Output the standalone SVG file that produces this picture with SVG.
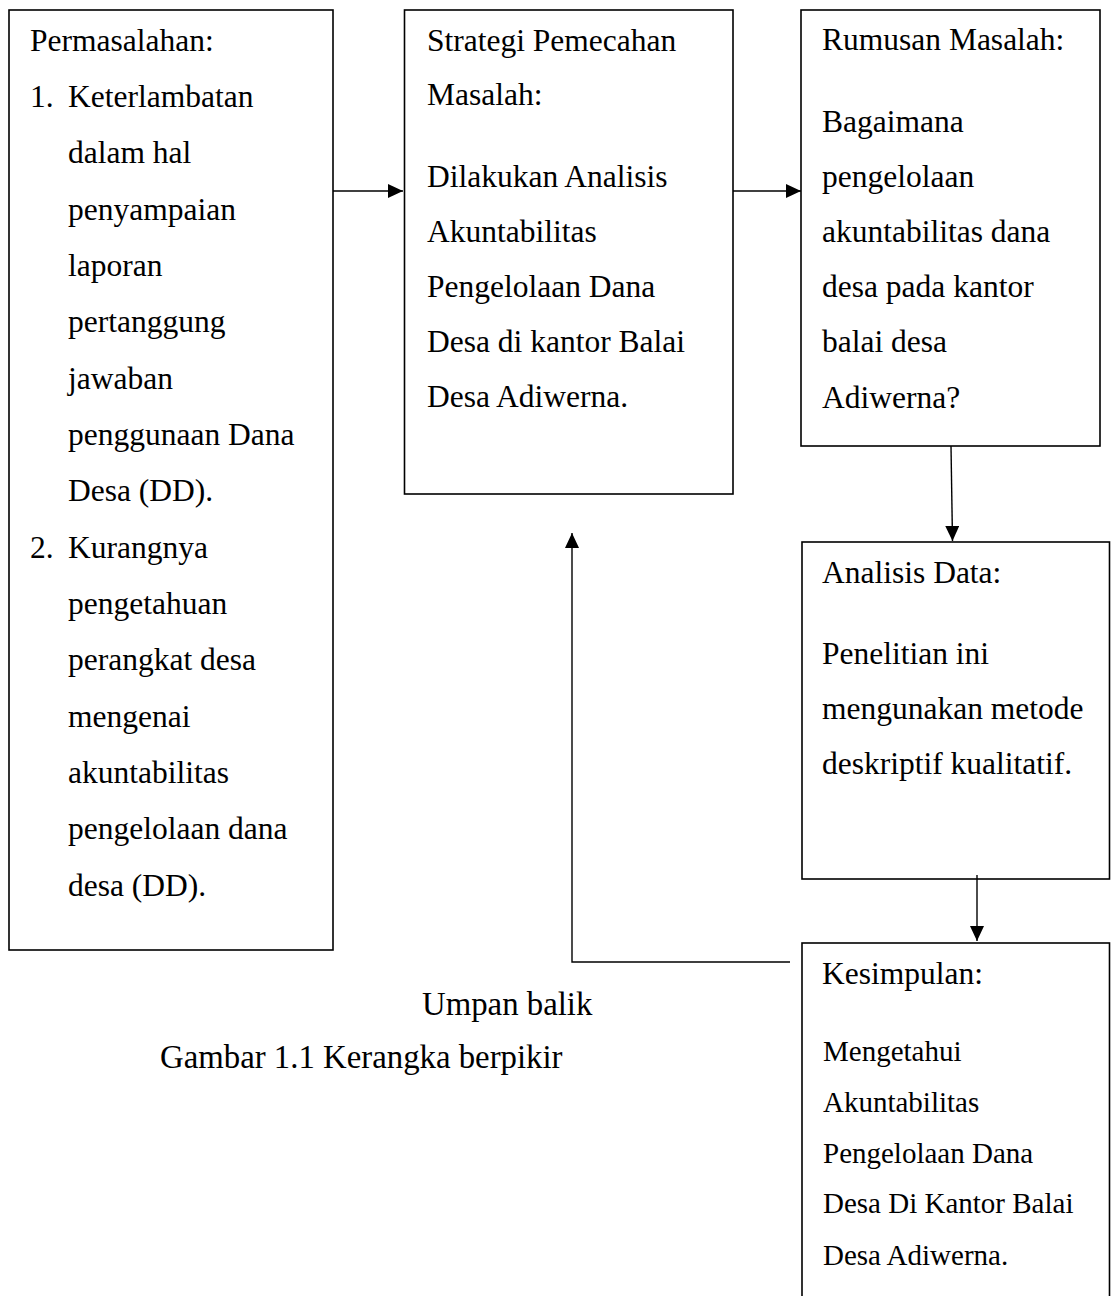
<svg xmlns="http://www.w3.org/2000/svg" width="1111" height="1296" viewBox="0 0 1111 1296">
<style>
.box{fill:#fff;stroke:#000;stroke-width:1.6}
.t{font-family:"Liberation Serif","Times New Roman",serif;font-size:31.5px;fill:#000}
.s{font-size:29px}
.cap{font-size:32.8px}
.c{fill:none;stroke:#000;stroke-width:1.4}
</style>
<defs>
<marker id="ah" markerUnits="userSpaceOnUse" markerWidth="16" markerHeight="14" refX="15" refY="7" orient="auto">
<path d="M0,0 L15,7 L0,14 z" fill="#000"/>
</marker>
</defs>
<rect width="1111" height="1296" fill="#fff"/>
<g id="permasalahan">
<rect class="box" x="9" y="10" width="324" height="940"/>
<text class="t" x="30" y="51">Permasalahan:</text>
<text class="t" x="30" y="107">1.</text>
<text class="t" x="68" y="107">Keterlambatan</text>
<text class="t" x="68" y="163">dalam hal</text>
<text class="t" x="68" y="220">penyampaian</text>
<text class="t" x="68" y="276">laporan</text>
<text class="t" x="68" y="332">pertanggung</text>
<text class="t" x="68" y="389">jawaban</text>
<text class="t" x="68" y="445">penggunaan Dana</text>
<text class="t" x="68" y="501">Desa (DD).</text>
<text class="t" x="30" y="558">2.</text>
<text class="t" x="68" y="558">Kurangnya</text>
<text class="t" x="68" y="614">pengetahuan</text>
<text class="t" x="68" y="670">perangkat desa</text>
<text class="t" x="68" y="727">mengenai</text>
<text class="t" x="68" y="783">akuntabilitas</text>
<text class="t" x="68" y="839">pengelolaan dana</text>
<text class="t" x="68" y="896">desa (DD).</text>
</g>
<g id="strategi">
<rect class="box" x="404.5" y="10" width="328.5" height="484"/>
<text class="t" x="427" y="51">Strategi Pemecahan</text>
<text class="t" x="427" y="105">Masalah:</text>
<text class="t" x="427" y="187">Dilakukan Analisis</text>
<text class="t" x="427" y="242">Akuntabilitas</text>
<text class="t" x="427" y="297">Pengelolaan Dana</text>
<text class="t" x="427" y="352">Desa di kantor Balai</text>
<text class="t" x="427" y="407">Desa Adiwerna.</text>
</g>
<g id="rumusan">
<rect class="box" x="801" y="10" width="299" height="436"/>
<text class="t" x="822" y="50">Rumusan Masalah:</text>
<text class="t" x="822" y="132">Bagaimana</text>
<text class="t" x="822" y="187">pengelolaan</text>
<text class="t" x="822" y="242">akuntabilitas dana</text>
<text class="t" x="822" y="297">desa pada kantor</text>
<text class="t" x="822" y="352">balai desa</text>
<text class="t" x="822" y="408">Adiwerna?</text>
</g>
<g id="analisis">
<rect class="box" x="802" y="542" width="307.5" height="337"/>
<text class="t" x="822" y="583">Analisis Data:</text>
<text class="t" x="822" y="664">Penelitian ini</text>
<text class="t" x="822" y="719">mengunakan metode</text>
<text class="t" x="822" y="774">deskriptif kualitatif.</text>
</g>
<g id="kesimpulan">
<rect class="box" x="802" y="943" width="307.5" height="400"/>
<text class="t" x="822" y="984">Kesimpulan:</text>
<text class="t s" x="823" y="1061">Mengetahui</text>
<text class="t s" x="823" y="1112">Akuntabilitas</text>
<text class="t s" x="823" y="1163">Pengelolaan Dana</text>
<text class="t s" x="823" y="1213">Desa Di Kantor Balai</text>
<text class="t s" x="823" y="1265">Desa Adiwerna.</text>
</g>
<g id="connectors">
<line class="c" x1="333" y1="191" x2="403" y2="191" marker-end="url(#ah)"/>
<line class="c" x1="733" y1="191" x2="801" y2="191" marker-end="url(#ah)"/>
<line class="c" x1="951" y1="446" x2="952.5" y2="541" marker-end="url(#ah)"/>
<line class="c" x1="977" y1="875" x2="977" y2="941" marker-end="url(#ah)"/>
<polyline class="c" points="790,962 572,962 572,533" marker-end="url(#ah)"/>
</g>
<g id="labels">
<text class="t cap" x="422" y="1015">Umpan balik</text>
<text class="t cap" x="160" y="1068">Gambar 1.1 Kerangka berpikir</text>
</g>
</svg>
